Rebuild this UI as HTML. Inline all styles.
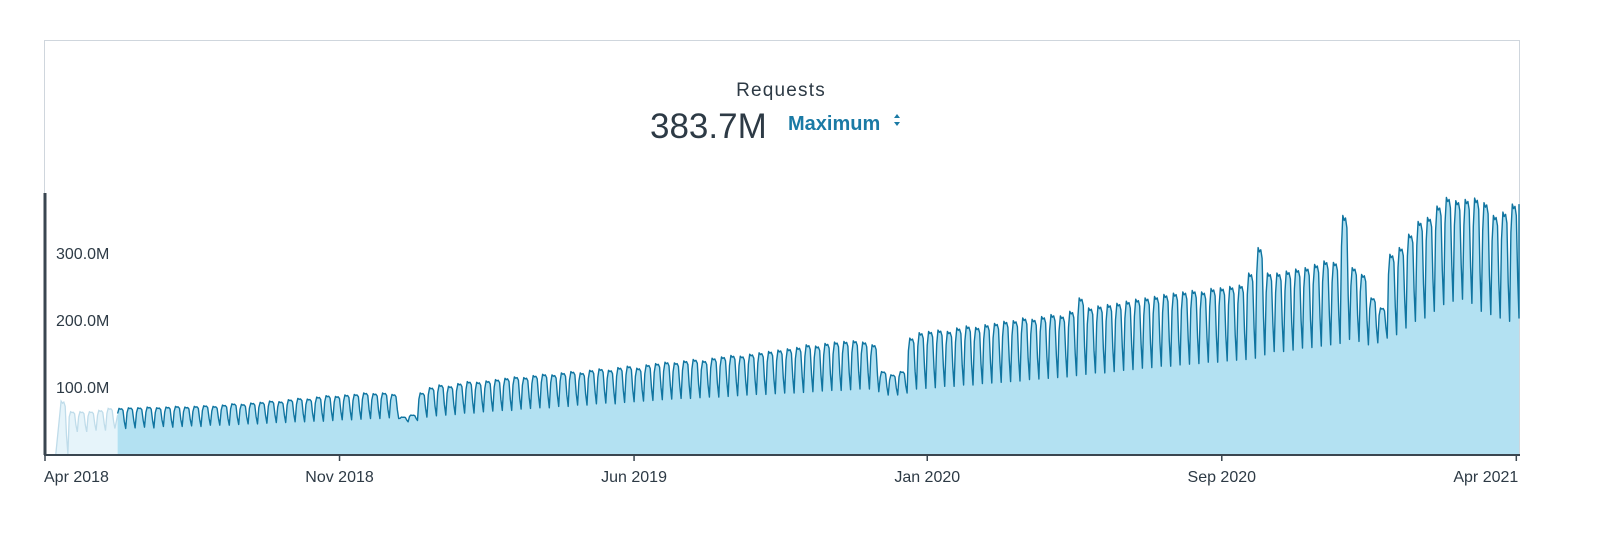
<!DOCTYPE html>
<html><head><meta charset="utf-8"><style>
html,body{margin:0;padding:0;background:#fff;overflow:hidden;width:1600px;height:533px;}
svg{display:block;}
svg text{font-family:"Liberation Sans",sans-serif;}
</style></head><body>
<svg id="chart" width="1600" height="533" viewBox="0 0 1600 533" xmlns="http://www.w3.org/2000/svg">
<rect x="44.5" y="40.5" width="1475" height="414" fill="none" stroke="#cfd6dd" stroke-width="1"/>
<text x="781" y="96" text-anchor="middle" font-size="19" fill="#2d3a45" letter-spacing="1.2">Requests</text>
<text x="650" y="138" font-size="35" fill="#2d3a45">383.7M</text>
<text x="788" y="130" font-size="20" font-weight="bold" fill="#1a7aa5">Maximum</text>
<path d="M894 118 l3 -4 l3 4z M894 122 l3 4 l3 -4z" fill="#1a7aa5"/>
<g id="plot"></g>
</svg>
<script>
const yTicks=[100,200,300];
const yTickLabels=["100.0M","200.0M","300.0M"];
const xTickLabels=["Apr 2018","Nov 2018","Jun 2019","Jan 2020","Sep 2020","Apr 2021"];
const xTickDays=[0,219,438,656,875,1094];
const previewPeaks=[79,63,63,63,65,68];
const previewTroughs=[0,33,33,35,35,38];
const weeklyPeaks=[68,69,69,70,69,70,71,70,71,72,71,73,75,74,76,77,79,78,81,83,82,85,87,86,88,89,91,90,91,89,55,58,91,99,103,101,105,108,107,109,111,113,115,114,117,119,118,121,123,121,125,127,125,129,131,128,133,135,137,136,139,141,139,143,145,147,146,149,151,153,155,157,159,163,161,165,167,168,169,167,163,123,118,123,173,181,183,185,183,188,191,189,193,195,198,199,203,201,205,208,206,213,233,218,221,223,225,228,231,233,235,238,240,242,244,242,247,248,250,252,270,308,270,270,273,276,278,283,288,286,356,278,268,233,218,298,308,328,347,353,370,383,378,380,382,375,356,361,373];
const weeklyTroughs=[38,39,40,39,41,40,41,42,41,43,43,43,44,45,45,46,47,47,48,48,49,49,50,51,51,52,53,53,54,53,48,50,55,57,58,59,61,61,63,64,65,65,67,68,69,69,71,71,73,73,75,76,75,77,78,79,80,81,82,83,83,84,85,85,86,87,88,89,89,90,91,91,92,93,94,95,95,96,97,97,93,88,88,91,97,98,99,101,101,103,103,105,106,107,108,109,111,112,113,114,115,117,119,121,121,123,125,126,128,129,131,131,133,134,135,137,137,139,140,141,143,148,153,153,155,158,159,161,163,165,171,168,163,166,173,178,188,198,203,213,223,228,231,225,213,208,203,198,203];
const NS='http://www.w3.org/2000/svg';
const X0=45,X1=1519,TOTAL_DAYS=1096,Y0=454,K=0.67,PREVIEW_START=11,MAIN_START=54;
function xs(d){return X0+(X1-X0)*d/TOTAL_DAYS;}
function ys(v){return Y0-v*K;}
const plot=document.getElementById('plot');
function mk(tag,attrs){const e=document.createElementNS(NS,tag);for(const k in attrs)e.setAttribute(k,attrs[k]);plot.appendChild(e);return e;}
function daily(peaks,troughs,start){
  const pts=[];
  for(let w=0;w<peaks.length;w++){
    const p=peaks[w],t=troughs[w];
    const r=p-t;
    const pat=[t+r*0.75,p,p-r*0.04,p-r*0.02,p-r*0.1,t+r*0.35,t];
    for(let d=0;d<7;d++){pts.push([start+w*7+d,pat[d]]);}
  }
  return pts;
}
const prev=daily(previewPeaks,previewTroughs,PREVIEW_START);
prev.unshift([PREVIEW_START-3,0]);
prev.push([MAIN_START,weeklyTroughs[0]+20]);
const main=daily(weeklyPeaks,weeklyTroughs,MAIN_START);
main.push([TOTAL_DAYS,weeklyPeaks[weeklyPeaks.length-1]]);
function linePath(pts){return pts.map((p,i)=>(i?'L':'M')+xs(p[0]).toFixed(1)+' '+ys(p[1]).toFixed(1)).join(' ');}
function areaPath(pts){return linePath(pts)+' L'+xs(pts[pts.length-1][0]).toFixed(1)+' '+Y0+' L'+xs(pts[0][0]).toFixed(1)+' '+Y0+' Z';}
const pa=mk('path',{d:areaPath(prev),fill:'#e6f4fa'});


const pl=mk('path',{d:linePath(prev),fill:'none',stroke:'#bfdcea','stroke-width':1.3});


const ma=mk('path',{d:areaPath(main),fill:'#b3e1f2'});


const ml=mk('path',{d:linePath(main),fill:'none',stroke:'#0f74a0','stroke-width':1.4,'stroke-linejoin':'round'});


const ya=mk('line',{x1:45,y1:193,x2:45,y2:Y0+1,stroke:'#3a4650','stroke-width':3});


const xa=mk('line',{x1:44,y1:Y0+1,x2:1520,y2:Y0+1,stroke:'#3a4650','stroke-width':2});


yTicks.forEach((v,i)=>{
  const t=mk('text',{x:56,y:ys(v)+6,'font-size':16,fill:'#2d3a45'});
  t.textContent=yTickLabels[i];
  
  
});
xTickDays.forEach((d,i)=>{
  const x=xs(d);
  const tk=mk('line',{x1:x,y1:Y0+1,x2:x,y2:Y0+7,stroke:'#3a4650','stroke-width':1.5});
  
  
  const anchor=i===0?'start':(i===xTickDays.length-1?'end':'middle');
  const t=mk('text',{x:i===0?x-1:(i===xTickDays.length-1?x+2:x),y:482,'font-size':16,fill:'#2d3a45','text-anchor':anchor});
  t.textContent=xTickLabels[i];
  
  
});
</script>
</body></html>
